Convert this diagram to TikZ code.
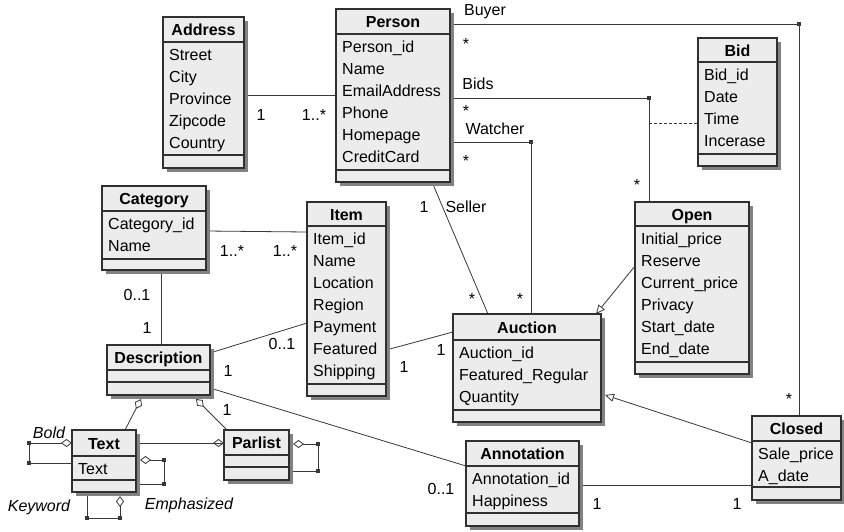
\documentclass[tikz,border=0pt]{standalone}
\usepackage{fontspec}
\setmainfont{Liberation Sans}
\usetikzlibrary{arrows.meta,calc}

\definecolor{boxfill}{HTML}{ECECEC}
\definecolor{boxshade}{HTML}{828282}
\definecolor{boxedge}{HTML}{303030}
\definecolor{lineclr}{HTML}{383838}

\pgfdeclarelayer{paper}
\pgfdeclarelayer{conn}
\pgfsetlayers{paper,conn,main}

\tikzset{
  classbody/.style={draw=boxedge, fill=boxfill, line width=1.1pt, inner sep=0pt,
                    outer sep=0pt, anchor=north west},
  classline/.style={draw=boxedge, line width=1.1pt},
  classtitle/.style={anchor=base, inner sep=0pt, font=\fontsize{16}{19}\selectfont\bfseries},
  classattr/.style={anchor=base west, inner sep=0pt, font=\fontsize{16}{19}\selectfont},
  lbl/.style={anchor=base, inner sep=0pt, font=\fontsize{16}{19}\selectfont},
  rolelbl/.style={lbl, font=\fontsize{16}{19}\selectfont\itshape},
  assoc/.style={draw=lineclr, line width=0.8pt},
  assocclass/.style={assoc, dash pattern=on 3pt off 2pt},
  aggr/.style={assoc, {Diamond[open, length=11pt, width=8pt, line width=0.8pt]}-},
  generalize/.style={assoc, -{Triangle[open, length=9pt, width=8pt, line width=0.8pt]}},
}

% #1 name, #2 left, #3 top, #4 right, #5 header bottom,
% #6 attribute bottom, #7 bottom, #8 title, #9 attributes
\newcommand{\umlclass}[9]{%
  \fill[boxshade] (#2+4,#3+4) rectangle (#4+4,#7+4);
  \node[classbody, minimum width={(#4-#2)*1pt}, minimum height={(#7-#3)*1pt}] (#1) at (#2,#3) {};
  \draw[classline] (#2,#5) -- (#4,#5);
  \draw[classline] (#2,#6) -- (#4,#6);
  \node[classtitle] (#1-title) at ({(#2+#4)/2},{(#3+#5)/2+6}) {#8};
  \foreach \attr [count=\k from 0] in {#9}
    \node[classattr] (#1-attr\k) at (#2+6,#5+18.5+22*\k) {\attr};
}

\begin{document}
\begin{tikzpicture}[x=1pt, y=-1pt]
\begin{pgfonlayer}{paper}
  \fill[white] (0,0) rectangle (844,531);
\end{pgfonlayer}
\useasboundingbox (0,0) rectangle (844,531);

% classes
\umlclass{address}{163}{17}{244}{42}{155}{168}{Address}{Street,City,Province,Zipcode,Country}
\umlclass{person}{336}{9}{450}{34}{170}{182}{Person}{Person\_id,Name,EmailAddress,Phone,Homepage,CreditCard}
\umlclass{bid}{698}{38}{777}{62}{154}{166}{Bid}{Bid\_id,Date,Time,Incerase}
\umlclass{category}{102}{186}{206}{211}{259}{270}{Category}{Category\_id,Name}
\umlclass{item}{307}{202}{386}{226}{384}{396}{Item}{Item\_id,Name,Location,Region,Payment,Featured,Shipping}
\umlclass{description}{107}{345}{210}{370}{382}{395}{Description}{}
\umlclass{auction}{453}{314}{601}{340}{410}{422}{Auction}{Auction\_id,Featured\_Regular,Quantity}
\umlclass{open}{635}{202}{749}{226}{362}{374}{Open}{Initial\_price,Reserve,Current\_price,Privacy,Start\_date,End\_date}
\umlclass{closed}{752}{416}{841}{441}{487}{500}{Closed}{Sale\_price,A\_date}
\umlclass{annotation}{466}{441}{579}{466}{513}{526}{Annotation}{Annotation\_id,Happiness}
\umlclass{text}{72}{430}{136}{456}{480}{492}{Text}{Text}
\umlclass{parlist}{224}{430}{289}{455}{467}{480}{Parlist}{}

% bend points of the routed associations
\coordinate (buyerbend) at (799,24);
\coordinate (bidsbend) at (649,98);
\coordinate (bidlink) at (649,123);
\coordinate (watchbend) at (531,142);
\coordinate (boldA) at (29,443);
\coordinate (boldB) at (29,463);
\coordinate (emphA) at (164,460);
\coordinate (emphB) at (164,484);
\coordinate (keyA) at (120,518);
\coordinate (keyB) at (87,518);
\coordinate (parA) at (318,444);
\coordinate (parB) at (318,471);

% plain associations, kept under the class shadows
\begin{pgfonlayer}{conn}
  \draw[assoc] (address.east |- 0,95) -- (person.west |- 0,95);
  \draw[assoc] (person.east |- buyerbend) -- (buyerbend) -- (closed.north -| buyerbend);
  \draw[assoc] (person.east |- bidsbend) -- (bidsbend) -- (open.north -| bidsbend);
  \draw[assocclass] (bidlink) -- (bid.west |- bidlink);
  \draw[assoc] (person.east |- watchbend) -- (watchbend) -- (auction.north -| watchbend);
  \draw[assoc] (person.south -| 432,0) -- (auction.north -| 488,0);
  \draw[assoc] (category.east |- 0,231) -- (item.west |- 0,232);
  \draw[assoc] (category.south -| 161,0) -- (description.north -| 161,0);
  \draw[assoc] (description.east |- 0,353) -- (item.west |- 0,323);
  \draw[assoc] (item.east |- 0,350) -- (auction.west |- 0,332);
  \draw[assoc] (description.east |- 0,388) -- (annotation.west |- 0,466);
  \draw[assoc] (annotation.east |- 0,485) -- (closed.west |- 0,485);
  \draw[assoc] ($(text.east |- 0,443)+(4,0)$) -- (parlist.west |- 0,443);
\end{pgfonlayer}

% generalizations
\draw[generalize] (open.west |- 0,266) -- (auction.north -| 596,0);
\draw[generalize] (closed.west |- 0,443) -- ($(auction.east |- 0,395)+(4,0)$);

% aggregations
\draw[aggr] ($(description.south -| 141,0)+(0,4)$) -- (text.north -| 125,0);
\draw[aggr] ($(description.south -| 196,0)+(0,4)$) -- (parlist.north -| 227,0);
\draw[aggr] (parlist.west |- 0,443) -- ($(text.east |- 0,443)+(4,0)$);
\draw[aggr] (text.west |- boldA) -- (boldA) -- (boldB) -- (text.west |- boldB);
\draw[aggr] ($(text.east |- emphA)+(4,0)$) -- (emphA) -- (emphB) -- ($(text.east |- emphB)+(4,0)$);
\draw[aggr] ($(text.south -| keyA)+(0,4)$) -- (keyA) -- (keyB) -- ($(text.south -| keyB)+(0,4)$);
\draw[aggr] ($(parlist.east |- parA)+(4,0)$) -- (parA) -- (parB) -- ($(parlist.east |- parB)+(4,0)$);

% junction dots
\foreach \c in {buyerbend,bidsbend,watchbend,boldA,boldB,emphA,emphB,keyA,keyB,parA,parB}
  \fill[lineclr] (\c) ++(-1.6,-1.6) rectangle ++(3.2,3.2);

% role names and multiplicities
\node[lbl] (m-addr) at (261,120) {1};
\node[lbl] (m-pers) at (314,120) {1..*};
\node[lbl] (r-buyer) at (485,15) {Buyer};
\node[lbl] (m-buyer) at (466,49) {*};
\node[lbl] (r-bids) at (478,89) {Bids};
\node[lbl] (m-bids) at (466,116) {*};
\node[lbl] (r-watch) at (495,134) {Watcher};
\node[lbl] (m-watch) at (466,166) {*};
\node[lbl] (m-seller) at (424,212) {1};
\node[lbl] (r-seller) at (466,212) {Seller};
\node[lbl] (m-sellauc) at (472,304) {*};
\node[lbl] (m-watchauc) at (520,304) {*};
\node[lbl] (m-bidsopen) at (637,190) {*};
\node[lbl] (m-buyclosed) at (789,404) {*};
\node[lbl] (m-catitem) at (232,256) {1..*};
\node[lbl] (m-itemcat) at (285,256) {1..*};
\node[lbl] (m-catdesc) at (137,300) {0..1};
\node[lbl] (m-desccat) at (147,333) {1};
\node[lbl] (m-itemdesc) at (282,349) {0..1};
\node[lbl] (m-descitem) at (228,376) {1};
\node[lbl] (m-aucitem) at (441,355) {1};
\node[lbl] (m-itemauc) at (404,372) {1};
\node[lbl] (m-descpar) at (227,415) {1};
\node[lbl] (m-annodesc) at (441,494) {0..1};
\node[lbl] (m-annoclosed) at (597,509) {1};
\node[lbl] (m-closedanno) at (737,509) {1};
\node[rolelbl] (r-bold) at (49,438) {Bold};
\node[rolelbl] (r-key) at (39,511) {Keyword};
\node[rolelbl] (r-emph) at (189,509) {Emphasized};
\end{tikzpicture}
\end{document}
